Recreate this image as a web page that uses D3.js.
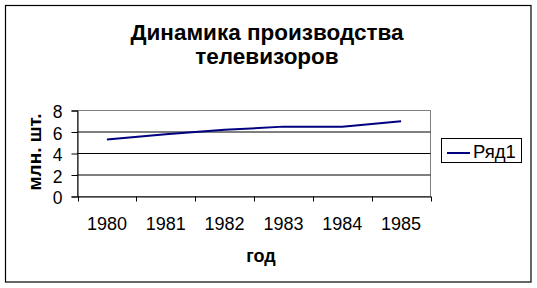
<!DOCTYPE html>
<html>
<head>
<meta charset="utf-8">
<script src="https://cdn.jsdelivr.net/npm/d3@7"></script>
<style>
  body { margin: 0; background: #fff; }
  svg { display: block; font-family: Arial, 'Liberation Sans', sans-serif; }
</style>
</head>
<body>
<svg id="chart" width="537" height="288"></svg>
<script>
const years = ['1980', '1981', '1982', '1983', '1984', '1985']
const values = [5.3, 5.8, 6.2, 6.5, 6.5, 7.0]
const yTicks = [0, 2, 4, 6, 8]
const titleLines = ['Динамика производства', 'телевизоров']
const seriesName = 'Ряд1'

const svg = d3.select('#chart')

const plot = { left: 77.5, right: 430.5, top: 110.5, bottom: 196.5 }

const xScale = d3.scaleBand()
  .domain(years)
  .range([plot.left, plot.right])

const yScale = d3.scaleLinear()
  .domain([0, 8])
  .range([plot.bottom, plot.top])

/**
 * Draws the outer frame of the chart.
 */
function drawFrame () {
  svg.append('rect')
    .attr('x', 5.5)
    .attr('y', 5.5)
    .attr('width', 525.5)
    .attr('height', 276.5)
    .attr('fill', '#fff')
    .attr('stroke', '#000')
    .attr('stroke-width', 1.2)
}

/**
 * Draws the title, two centred bold lines.
 */
function drawTitle () {
  svg.append('text')
    .attr('x', 267)
    .attr('text-anchor', 'middle')
    .attr('font-size', 22.5)
    .attr('font-weight', 'bold')
    .selectAll('tspan')
    .data(titleLines)
    .enter()
    .append('tspan')
    .attr('x', 267)
    .attr('y', (d, i) => 40 + i * 24)
    .text(d => d)
}

/**
 * Draws the grid, the plot border and both axes.
 */
function drawAxes () {
  // gray plot area border
  svg.append('rect')
    .attr('x', plot.left)
    .attr('y', plot.top)
    .attr('width', plot.right - plot.left)
    .attr('height', plot.bottom - plot.top)
    .attr('fill', 'none')
    .attr('stroke', '#808080')

  svg.append('g')
    .selectAll('line')
    .data(yTicks.filter(d => d > 0 && d < 8))
    .enter()
    .append('line')
    .attr('x1', plot.left)
    .attr('x2', plot.right)
    .attr('y1', d => yScale(d))
    .attr('y2', d => yScale(d))
    .attr('stroke', '#000')

  const yAxis = svg.append('g')
    .attr('transform', `translate(${plot.left},0)`)
    .call(d3.axisLeft(yScale).tickValues(yTicks).tickSize(6).tickPadding(9))
  yAxis.select('.domain').attr('stroke', '#000')
  yAxis.selectAll('text')
    .attr('font-size', 17.5)
    .attr('fill', '#000')
    .attr('dy', '0.42em')

  const xAxis = svg.append('g')
    .attr('transform', `translate(0,${plot.bottom})`)
    .call(d3.axisBottom(xScale).tickSize(0).tickPadding(21))
  xAxis.select('.domain').attr('stroke', '#000')
  xAxis.selectAll('text')
    .attr('font-size', 18)
    .attr('fill', '#000')

  // x ticks sit on the category boundaries
  const edges = years.map(d => xScale(d)).concat([plot.right])
  svg.append('g')
    .selectAll('line')
    .data(edges)
    .enter()
    .append('line')
    .attr('x1', d => Math.round(d) + 0.5)
    .attr('x2', d => Math.round(d) + 0.5)
    .attr('y1', plot.bottom)
    .attr('y2', plot.bottom + 5)
    .attr('stroke', '#000')

  svg.append('text')
    .attr('x', 261)
    .attr('y', 262)
    .attr('text-anchor', 'middle')
    .attr('font-size', 18)
    .attr('font-weight', 'bold')
    .text('год')

  svg.append('text')
    .attr('transform', 'translate(41,152) rotate(-90)')
    .attr('text-anchor', 'middle')
    .attr('font-size', 19)
    .attr('font-weight', 'bold')
    .text('млн. шт.')
}

/**
 * Draws the data line through the category centres.
 */
function drawLine () {
  const line = d3.line()
    .x((d, i) => xScale(years[i]) + xScale.bandwidth() / 2)
    .y(d => yScale(d))

  svg.append('path')
    .datum(values)
    .attr('d', line)
    .attr('fill', 'none')
    .attr('stroke', '#000080')
    .attr('stroke-width', 2)
}

/**
 * Draws the legend box on the right.
 */
function drawLegend () {
  const g = svg.append('g')
  g.append('rect')
    .attr('x', 441.5)
    .attr('y', 138.5)
    .attr('width', 80)
    .attr('height', 24)
    .attr('fill', '#fff')
    .attr('stroke', '#000')
  g.append('line')
    .attr('x1', 447)
    .attr('x2', 470)
    .attr('y1', 153)
    .attr('y2', 153)
    .attr('stroke', '#000080')
    .attr('stroke-width', 2)
  g.append('text')
    .attr('x', 473)
    .attr('y', 157.5)
    .attr('font-size', 18.5)
    .text(seriesName)
}

drawFrame()
drawTitle()
drawAxes()
drawLine()
drawLegend()
</script>
</body>
</html>
